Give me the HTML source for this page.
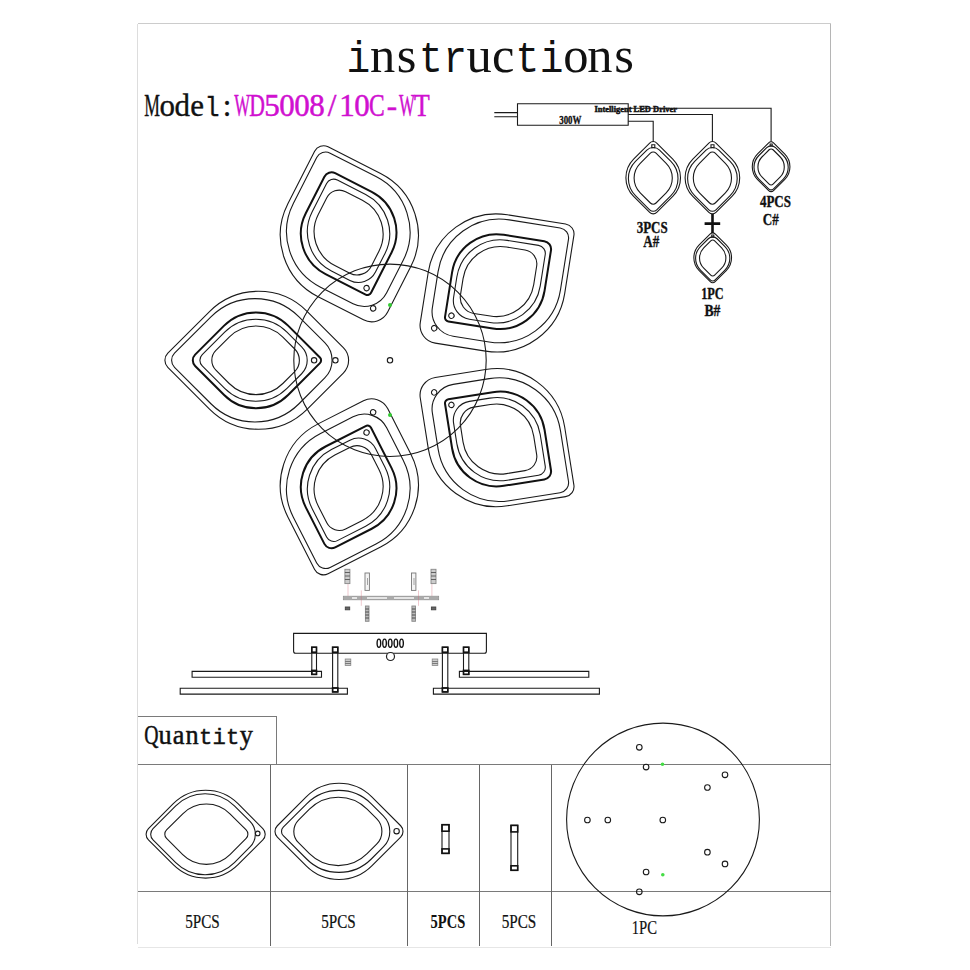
<!DOCTYPE html>
<html><head><meta charset="utf-8"><style>
html,body{margin:0;padding:0;background:#fff;width:970px;height:970px;overflow:hidden}
svg{display:block}
.t{fill:none;stroke:#1a1a1a;stroke-width:1.1;vector-effect:non-scaling-stroke}
.k{fill:none;stroke:#111;stroke-width:2.0}
.k2{fill:none;stroke:#111;stroke-width:1.6}
</style></head><body>
<svg width="970" height="970" viewBox="0 0 970 970">
<rect x="0" y="0" width="970" height="970" fill="#fff"/>
<g fill="none" shape-rendering="crispEdges">
<path d="M137.5 944V23.5" stroke="#ddd" stroke-width="1"/>
<path d="M137.5 23.5H830.5" stroke="#ccc" stroke-width="1"/>
<path d="M830.5 23.5V945.5" stroke="#b5b5b5" stroke-width="1"/>
<path d="M137.5 947.5H830.5" stroke="#e6e6e6" stroke-width="1"/>
</g>
<g font-family="Liberation Serif" font-size="50.5" font-weight="normal" fill="#111" stroke="#111" stroke-width="0"><text font-family="Liberation Mono" font-size="43.94" transform="translate(358.4 71.6) scale(0.9 1)" text-anchor="middle">i</text><text transform="translate(382.55 71.6) scale(1 1)" text-anchor="middle">n</text><text transform="translate(406.7 71.6) scale(1 1)" text-anchor="middle">s</text><text font-family="Liberation Mono" font-size="43.94" transform="translate(430.85 71.6) scale(0.9 1)" text-anchor="middle">t</text><text font-family="Liberation Mono" font-size="43.94" transform="translate(455 71.6) scale(0.9 1)" text-anchor="middle">r</text><text transform="translate(479.15 71.6) scale(1 1)" text-anchor="middle">u</text><text transform="translate(503.3 71.6) scale(1 1)" text-anchor="middle">c</text><text font-family="Liberation Mono" font-size="43.94" transform="translate(527.45 71.6) scale(0.9 1)" text-anchor="middle">t</text><text font-family="Liberation Mono" font-size="43.94" transform="translate(551.6 71.6) scale(0.9 1)" text-anchor="middle">i</text><text transform="translate(575.75 71.6) scale(1 1)" text-anchor="middle">o</text><text transform="translate(599.9 71.6) scale(1 1)" text-anchor="middle">n</text><text transform="translate(624.05 71.6) scale(1 1)" text-anchor="middle">s</text></g>
<g font-family="Liberation Serif" font-size="31" font-weight="normal" fill="#111" stroke="#111" stroke-width="0.35"><text transform="translate(152.2 115.5) scale(0.57 1)" text-anchor="middle">M</text><text transform="translate(167.18 115.5) scale(1 1)" text-anchor="middle">o</text><text transform="translate(182.16 115.5) scale(1 1)" text-anchor="middle">d</text><text transform="translate(197.14 115.5) scale(1 1)" text-anchor="middle">e</text><text font-family="Liberation Mono" font-size="26.97" transform="translate(212.12 115.5) scale(0.91 1)" text-anchor="middle">l</text><text transform="translate(227.1 115.5) scale(1 1)" text-anchor="middle">:</text></g>
<g font-family="Liberation Serif" font-size="31" font-weight="normal" fill="#d010d0" stroke="#d010d0" stroke-width="0.5"><text transform="translate(242.08 115.5) scale(0.54 1)" text-anchor="middle">W</text><text transform="translate(257.06 115.5) scale(0.7 1)" text-anchor="middle">D</text><text transform="translate(272.04 115.5) scale(1 1)" text-anchor="middle">5</text><text transform="translate(287.02 115.5) scale(1 1)" text-anchor="middle">0</text><text transform="translate(302 115.5) scale(1 1)" text-anchor="middle">0</text><text transform="translate(316.98 115.5) scale(1 1)" text-anchor="middle">8</text><text transform="translate(331.96 115.5) scale(1 1)" text-anchor="middle">/</text><text transform="translate(346.94 115.5) scale(1 1)" text-anchor="middle">1</text><text transform="translate(361.92 115.5) scale(1 1)" text-anchor="middle">0</text><text transform="translate(376.9 115.5) scale(0.76 1)" text-anchor="middle">C</text><text transform="translate(391.88 115.5) scale(1 1)" text-anchor="middle">-</text><text transform="translate(406.86 115.5) scale(0.54 1)" text-anchor="middle">W</text><text transform="translate(421.84 115.5) scale(0.83 1)" text-anchor="middle">T</text></g>
<g font-family="Liberation Serif" font-size="26.3" font-weight="normal" fill="#111" stroke="#111" stroke-width="0.45"><text transform="translate(151.4 743.8) scale(0.75 1)" text-anchor="middle">Q</text><text transform="translate(164.96 743.8) scale(1 1)" text-anchor="middle">u</text><text transform="translate(178.52 743.8) scale(1 1)" text-anchor="middle">a</text><text transform="translate(192.08 743.8) scale(1 1)" text-anchor="middle">n</text><text font-family="Liberation Mono" font-size="22.88" transform="translate(205.64 743.8) scale(0.97 1)" text-anchor="middle">t</text><text font-family="Liberation Mono" font-size="22.88" transform="translate(219.2 743.8) scale(0.97 1)" text-anchor="middle">i</text><text font-family="Liberation Mono" font-size="22.88" transform="translate(232.76 743.8) scale(0.97 1)" text-anchor="middle">t</text><text transform="translate(246.32 743.8) scale(1 1)" text-anchor="middle">y</text></g>
<text x="636.7" y="232.5" font-family="Liberation Serif" font-size="16.5" font-weight="bold" textLength="31" lengthAdjust="spacingAndGlyphs" fill="#111" stroke="#111" stroke-width="0.35">3PCS</text>
<text x="643.2" y="246.9" font-family="Liberation Serif" font-size="16.5" font-weight="bold" textLength="16" lengthAdjust="spacingAndGlyphs" fill="#111" stroke="#111" stroke-width="0.35">A#</text>
<text x="759.9" y="207.4" font-family="Liberation Serif" font-size="16.5" font-weight="bold" textLength="31" lengthAdjust="spacingAndGlyphs" fill="#111" stroke="#111" stroke-width="0.35">4PCS</text>
<text x="762.7" y="225" font-family="Liberation Serif" font-size="16.5" font-weight="bold" textLength="16" lengthAdjust="spacingAndGlyphs" fill="#111" stroke="#111" stroke-width="0.35">C#</text>
<text x="701.15" y="298.9" font-family="Liberation Serif" font-size="16.5" font-weight="bold" textLength="22.5" lengthAdjust="spacingAndGlyphs" fill="#111" stroke="#111" stroke-width="0.35">1PC</text>
<text x="704.4" y="315.7" font-family="Liberation Serif" font-size="16.5" font-weight="bold" textLength="16" lengthAdjust="spacingAndGlyphs" fill="#111" stroke="#111" stroke-width="0.35">B#</text>
<text x="559.2" y="124.3" font-family="Liberation Serif" font-size="12.5" font-weight="bold" textLength="22.2" lengthAdjust="spacingAndGlyphs" fill="#111" stroke="#111" stroke-width="0.35">300W</text>
<text x="594.4" y="111.9" font-family="Liberation Serif" font-size="8.5" font-weight="bold" textLength="82.6" lengthAdjust="spacingAndGlyphs" fill="#111" stroke="#111" stroke-width="0.5">Intelligent LED Driver</text>
<text x="185.25" y="927.5" font-family="Liberation Serif" font-size="19" font-weight="normal" textLength="34.5" lengthAdjust="spacingAndGlyphs" fill="#111" stroke="#111" stroke-width="0.2">5PCS</text>
<text x="321.15" y="927.5" font-family="Liberation Serif" font-size="19" font-weight="normal" textLength="34.5" lengthAdjust="spacingAndGlyphs" fill="#111" stroke="#111" stroke-width="0.2">5PCS</text>
<text x="430.6" y="927.8" font-family="Liberation Serif" font-size="19" font-weight="bold" textLength="34.6" lengthAdjust="spacingAndGlyphs" fill="#111" stroke="#111" stroke-width="0.05">5PCS</text>
<text x="501.7" y="927.8" font-family="Liberation Serif" font-size="19" font-weight="normal" textLength="34.6" lengthAdjust="spacingAndGlyphs" fill="#111" stroke="#111" stroke-width="0.2">5PCS</text>
<text x="631.65" y="934.4" font-family="Liberation Serif" font-size="19" font-weight="normal" textLength="25.3" lengthAdjust="spacingAndGlyphs" fill="#111" stroke="#111" stroke-width="0.2">1PC</text>
<rect x="517.5" y="103.7" width="110.7" height="21.6" class="t"/>
<path d="M494.3 112.6H517.5M494.3 116.7H517.5" class="t"/>
<path d="M628.2 108.2H771.1V141.75M628.2 114.5H712.4V141.75M628.2 121.2H653.2V141.75" class="t"/>
<g transform="translate(653.2 178.18) scale(1) rotate(90) translate(-178.2 -653.2)">
<path d="M143.06 649.66L159.11 633.62A26.37 26.37 0 0 1 196.39 633.62L212.44 649.66A5 5 0 0 1 212.44 656.74L196.39 672.78A26.37 26.37 0 0 1 159.11 672.78L143.06 656.74A5 5 0 0 1 143.06 649.66Z" class="t"/>
<path d="M150.14 646.84L161.5 635.47A24.14 24.14 0 0 1 195.64 635.47L209.84 649.66A5 5 0 0 1 209.84 656.74L195.64 670.93A24.14 24.14 0 0 1 161.5 670.93L150.14 659.56A9 9 0 0 1 150.14 646.84Z" class="t"/>
<path d="M153.17 650.37L163.32 640.22A20.9 20.9 0 0 1 192.88 640.22L203.03 650.37A4 4 0 0 1 203.03 656.03L192.88 666.18A20.9 20.9 0 0 1 163.32 666.18L153.17 656.03A4 4 0 0 1 153.17 650.37Z" class="t"/>
<rect x="144.8" y="651.6" width="3" height="3" class="t"/>
</g>
<g transform="translate(712.4 178.18) scale(1) rotate(90) translate(-178.2 -653.2)">
<path d="M143.06 649.66L159.11 633.62A26.37 26.37 0 0 1 196.39 633.62L212.44 649.66A5 5 0 0 1 212.44 656.74L196.39 672.78A26.37 26.37 0 0 1 159.11 672.78L143.06 656.74A5 5 0 0 1 143.06 649.66Z" class="t"/>
<path d="M150.14 646.84L161.5 635.47A24.14 24.14 0 0 1 195.64 635.47L209.84 649.66A5 5 0 0 1 209.84 656.74L195.64 670.93A24.14 24.14 0 0 1 161.5 670.93L150.14 659.56A9 9 0 0 1 150.14 646.84Z" class="t"/>
<path d="M153.17 650.37L163.32 640.22A20.9 20.9 0 0 1 192.88 640.22L203.03 650.37A4 4 0 0 1 203.03 656.03L192.88 666.18A20.9 20.9 0 0 1 163.32 666.18L153.17 656.03A4 4 0 0 1 153.17 650.37Z" class="t"/>
<rect x="144.8" y="651.6" width="3" height="3" class="t"/>
</g>
<g transform="translate(712.7 258.1) scale(0.69) rotate(90) translate(-178.2 -653.2)">
<path d="M143.06 649.66L159.11 633.62A26.37 26.37 0 0 1 196.39 633.62L212.44 649.66A5 5 0 0 1 212.44 656.74L196.39 672.78A26.37 26.37 0 0 1 159.11 672.78L143.06 656.74A5 5 0 0 1 143.06 649.66Z" class="t"/>
<path d="M150.14 646.84L161.5 635.47A24.14 24.14 0 0 1 195.64 635.47L209.84 649.66A5 5 0 0 1 209.84 656.74L195.64 670.93A24.14 24.14 0 0 1 161.5 670.93L150.14 659.56A9 9 0 0 1 150.14 646.84Z" class="t"/>
<path d="M153.17 650.37L163.32 640.22A20.9 20.9 0 0 1 192.88 640.22L203.03 650.37A4 4 0 0 1 203.03 656.03L192.88 666.18A20.9 20.9 0 0 1 163.32 666.18L153.17 656.03A4 4 0 0 1 153.17 650.37Z" class="t"/>
<rect x="144.8" y="651.6" width="3" height="3" class="t"/>
</g>
<g transform="translate(771.1 167.03) scale(0.69) rotate(90) translate(-178.2 -653.2)">
<path d="M143.06 649.66L159.11 633.62A26.37 26.37 0 0 1 196.39 633.62L212.44 649.66A5 5 0 0 1 212.44 656.74L196.39 672.78A26.37 26.37 0 0 1 159.11 672.78L143.06 656.74A5 5 0 0 1 143.06 649.66Z" class="t"/>
<path d="M150.14 646.84L161.5 635.47A24.14 24.14 0 0 1 195.64 635.47L209.84 649.66A5 5 0 0 1 209.84 656.74L195.64 670.93A24.14 24.14 0 0 1 161.5 670.93L150.14 659.56A9 9 0 0 1 150.14 646.84Z" class="t"/>
<path d="M153.17 650.37L163.32 640.22A20.9 20.9 0 0 1 192.88 640.22L203.03 650.37A4 4 0 0 1 203.03 656.03L192.88 666.18A20.9 20.9 0 0 1 163.32 666.18L153.17 656.03A4 4 0 0 1 153.17 650.37Z" class="t"/>
<rect x="144.8" y="651.6" width="3" height="3" class="t"/>
</g>
<path d="M712.5 214V233M704.6 223.6H720.2" stroke="#111" stroke-width="2.6" fill="none"/>
<g transform="rotate(0 390.0 360.3)">
<path d="M167.83 353.23L209.5 311.56A69.16 69.16 0 0 1 307.31 311.56L343.33 347.57A18 18 0 0 1 343.33 373.03L307.31 409.04A69.16 69.16 0 0 1 209.5 409.04L167.83 367.37A10 10 0 0 1 167.83 353.23Z" class="t"/>
<path d="M174.53 353.23L210.92 316.84A62.28 62.28 0 0 1 299 316.84L324.78 342.62A25 25 0 0 1 324.78 377.98L299 403.76A62.28 62.28 0 0 1 210.92 403.76L174.53 367.37A10 10 0 0 1 174.53 353.23Z" class="t"/>
<path d="M195.14 354.64L224.14 325.65A45.23 45.23 0 0 1 288.1 325.65L319.93 357.47A4 4 0 0 1 319.93 363.13L288.1 394.95A45.23 45.23 0 0 1 224.14 394.95L195.14 365.96A8 8 0 0 1 195.14 354.64Z" class="k"/>
<path d="M202.24 354.64L224.69 332.2A44.04 44.04 0 0 1 286.97 332.2L301.64 346.86A19 19 0 0 1 301.64 373.74L286.97 388.4A44.04 44.04 0 0 1 224.69 388.4L202.24 365.96A8 8 0 0 1 202.24 354.64Z" class="t"/>
<path d="M215.9 350.4L229.19 337.11A37.94 37.94 0 0 1 282.84 337.11L294.71 348.99A16 16 0 0 1 294.71 371.61L282.84 383.49A37.94 37.94 0 0 1 229.19 383.49L215.9 370.2A14 14 0 0 1 215.9 350.4Z" class="t"/>
<circle cx="314.1" cy="360.3" r="2.7" class="t"/>
<circle cx="335.4" cy="360.3" r="2.7" class="t"/>
</g>
<g transform="rotate(72 390.0 360.3)">
<path d="M167.83 353.23L209.5 311.56A69.16 69.16 0 0 1 307.31 311.56L343.33 347.57A18 18 0 0 1 343.33 373.03L307.31 409.04A69.16 69.16 0 0 1 209.5 409.04L167.83 367.37A10 10 0 0 1 167.83 353.23Z" class="t"/>
<path d="M174.53 353.23L210.92 316.84A62.28 62.28 0 0 1 299 316.84L324.78 342.62A25 25 0 0 1 324.78 377.98L299 403.76A62.28 62.28 0 0 1 210.92 403.76L174.53 367.37A10 10 0 0 1 174.53 353.23Z" class="t"/>
<path d="M195.14 354.64L224.14 325.65A45.23 45.23 0 0 1 288.1 325.65L319.93 357.47A4 4 0 0 1 319.93 363.13L288.1 394.95A45.23 45.23 0 0 1 224.14 394.95L195.14 365.96A8 8 0 0 1 195.14 354.64Z" class="k"/>
<path d="M202.24 354.64L224.69 332.2A44.04 44.04 0 0 1 286.97 332.2L301.64 346.86A19 19 0 0 1 301.64 373.74L286.97 388.4A44.04 44.04 0 0 1 224.69 388.4L202.24 365.96A8 8 0 0 1 202.24 354.64Z" class="t"/>
<path d="M215.9 350.4L229.19 337.11A37.94 37.94 0 0 1 282.84 337.11L294.71 348.99A16 16 0 0 1 294.71 371.61L282.84 383.49A37.94 37.94 0 0 1 229.19 383.49L215.9 370.2A14 14 0 0 1 215.9 350.4Z" class="t"/>
<circle cx="314.1" cy="360.3" r="2.7" class="t"/>
<circle cx="335.4" cy="360.3" r="2.7" class="t"/>
</g>
<g transform="rotate(144 390.0 360.3)">
<path d="M167.83 353.23L209.5 311.56A69.16 69.16 0 0 1 307.31 311.56L343.33 347.57A18 18 0 0 1 343.33 373.03L307.31 409.04A69.16 69.16 0 0 1 209.5 409.04L167.83 367.37A10 10 0 0 1 167.83 353.23Z" class="t"/>
<path d="M174.53 353.23L210.92 316.84A62.28 62.28 0 0 1 299 316.84L324.78 342.62A25 25 0 0 1 324.78 377.98L299 403.76A62.28 62.28 0 0 1 210.92 403.76L174.53 367.37A10 10 0 0 1 174.53 353.23Z" class="t"/>
<path d="M195.14 354.64L224.14 325.65A45.23 45.23 0 0 1 288.1 325.65L319.93 357.47A4 4 0 0 1 319.93 363.13L288.1 394.95A45.23 45.23 0 0 1 224.14 394.95L195.14 365.96A8 8 0 0 1 195.14 354.64Z" class="k"/>
<path d="M202.24 354.64L224.69 332.2A44.04 44.04 0 0 1 286.97 332.2L301.64 346.86A19 19 0 0 1 301.64 373.74L286.97 388.4A44.04 44.04 0 0 1 224.69 388.4L202.24 365.96A8 8 0 0 1 202.24 354.64Z" class="t"/>
<path d="M215.9 350.4L229.19 337.11A37.94 37.94 0 0 1 282.84 337.11L294.71 348.99A16 16 0 0 1 294.71 371.61L282.84 383.49A37.94 37.94 0 0 1 229.19 383.49L215.9 370.2A14 14 0 0 1 215.9 350.4Z" class="t"/>
<circle cx="314.1" cy="360.3" r="2.7" class="t"/>
<circle cx="335.4" cy="360.3" r="2.7" class="t"/>
</g>
<g transform="rotate(216 390.0 360.3)">
<path d="M167.83 353.23L209.5 311.56A69.16 69.16 0 0 1 307.31 311.56L343.33 347.57A18 18 0 0 1 343.33 373.03L307.31 409.04A69.16 69.16 0 0 1 209.5 409.04L167.83 367.37A10 10 0 0 1 167.83 353.23Z" class="t"/>
<path d="M174.53 353.23L210.92 316.84A62.28 62.28 0 0 1 299 316.84L324.78 342.62A25 25 0 0 1 324.78 377.98L299 403.76A62.28 62.28 0 0 1 210.92 403.76L174.53 367.37A10 10 0 0 1 174.53 353.23Z" class="t"/>
<path d="M195.14 354.64L224.14 325.65A45.23 45.23 0 0 1 288.1 325.65L319.93 357.47A4 4 0 0 1 319.93 363.13L288.1 394.95A45.23 45.23 0 0 1 224.14 394.95L195.14 365.96A8 8 0 0 1 195.14 354.64Z" class="k"/>
<path d="M202.24 354.64L224.69 332.2A44.04 44.04 0 0 1 286.97 332.2L301.64 346.86A19 19 0 0 1 301.64 373.74L286.97 388.4A44.04 44.04 0 0 1 224.69 388.4L202.24 365.96A8 8 0 0 1 202.24 354.64Z" class="t"/>
<path d="M215.9 350.4L229.19 337.11A37.94 37.94 0 0 1 282.84 337.11L294.71 348.99A16 16 0 0 1 294.71 371.61L282.84 383.49A37.94 37.94 0 0 1 229.19 383.49L215.9 370.2A14 14 0 0 1 215.9 350.4Z" class="t"/>
<circle cx="314.1" cy="360.3" r="2.7" class="t"/>
<circle cx="335.4" cy="360.3" r="2.7" class="t"/>
</g>
<g transform="rotate(288 390.0 360.3)">
<path d="M167.83 353.23L209.5 311.56A69.16 69.16 0 0 1 307.31 311.56L343.33 347.57A18 18 0 0 1 343.33 373.03L307.31 409.04A69.16 69.16 0 0 1 209.5 409.04L167.83 367.37A10 10 0 0 1 167.83 353.23Z" class="t"/>
<path d="M174.53 353.23L210.92 316.84A62.28 62.28 0 0 1 299 316.84L324.78 342.62A25 25 0 0 1 324.78 377.98L299 403.76A62.28 62.28 0 0 1 210.92 403.76L174.53 367.37A10 10 0 0 1 174.53 353.23Z" class="t"/>
<path d="M195.14 354.64L224.14 325.65A45.23 45.23 0 0 1 288.1 325.65L319.93 357.47A4 4 0 0 1 319.93 363.13L288.1 394.95A45.23 45.23 0 0 1 224.14 394.95L195.14 365.96A8 8 0 0 1 195.14 354.64Z" class="k"/>
<path d="M202.24 354.64L224.69 332.2A44.04 44.04 0 0 1 286.97 332.2L301.64 346.86A19 19 0 0 1 301.64 373.74L286.97 388.4A44.04 44.04 0 0 1 224.69 388.4L202.24 365.96A8 8 0 0 1 202.24 354.64Z" class="t"/>
<path d="M215.9 350.4L229.19 337.11A37.94 37.94 0 0 1 282.84 337.11L294.71 348.99A16 16 0 0 1 294.71 371.61L282.84 383.49A37.94 37.94 0 0 1 229.19 383.49L215.9 370.2A14 14 0 0 1 215.9 350.4Z" class="t"/>
<circle cx="314.1" cy="360.3" r="2.7" class="t"/>
<circle cx="335.4" cy="360.3" r="2.7" class="t"/>
</g>
<circle cx="390.0" cy="360.3" r="96.2" class="t"/>
<circle cx="390.0" cy="360.3" r="2.7" class="t"/>
<circle cx="390" cy="305.1" r="2" fill="#3c3" stroke="none"/>
<circle cx="390" cy="415.1" r="2" fill="#3c3" stroke="none"/>
<g stroke="#888" stroke-width="0.9" fill="#ddd">
<rect x="343.4" y="596.3" width="95.2" height="3.4" fill="#e4e4e4"/>
<rect x="343.4" y="596.3" width="8.6" height="3.4" fill="#aaa" stroke="none"/>
<rect x="357" y="596.3" width="10.0" height="3.4" fill="#aaa" stroke="none"/>
<rect x="387" y="596.3" width="7.0" height="3.4" fill="#aaa" stroke="none"/>
<rect x="414" y="596.3" width="10.0" height="3.4" fill="#aaa" stroke="none"/>
<rect x="429" y="596.3" width="9.6" height="3.4" fill="#aaa" stroke="none"/>
<rect x="344.9" y="569.3" width="5" height="14.3" fill="#ccc"/>
<path d="M344.9 572.5H349.9M344.9 576H349.9M344.9 579.5H349.9" stroke="#555"/>
<rect x="345.29999999999995" y="607" width="4.4" height="2.8" fill="#666" stroke="#444"/>
<rect x="431" y="569.3" width="5" height="14.3" fill="#ccc"/>
<path d="M431 572.5H436M431 576H436M431 579.5H436" stroke="#555"/>
<rect x="431.4" y="607" width="4.4" height="2.8" fill="#666" stroke="#444"/>
<rect x="365" y="573" width="4.4" height="17.4" fill="#f4f4f4" stroke="#777"/>
<path d="M367.5 578V585" stroke="#999"/>
<rect x="365.4" y="606" width="3.6" height="15.3" fill="#bbb" stroke="#888"/>
<path d="M365.4 609H369M365.4 612H369M365.4 615H369M365.4 618H369" stroke="#444"/>
<rect x="411.5" y="573" width="4.4" height="17.4" fill="#f4f4f4" stroke="#777"/>
<path d="M414.0 578V585" stroke="#999"/>
<rect x="411.9" y="606" width="3.6" height="15.3" fill="#bbb" stroke="#888"/>
<path d="M411.9 609H415.5M411.9 612H415.5M411.9 615H415.5M411.9 618H415.5" stroke="#444"/>
</g>
<g stroke="#d06070" stroke-width="0.6" opacity="0.55"><path d="M348 584V596M361.3 590.4V605.8M418.5 590.4V605.8M431.9 584V596"/></g>
<path d="M293.6 633.4H486.4V651.3Q486.4 653.3 484.4 653.3H295.6Q293.6 653.3 293.6 651.3Z" class="t"/>
<circle cx="390.5" cy="656.5" r="4" fill="#fff" stroke="#222" stroke-width="1.2"/>
<rect x="192.1" y="671.4" width="129.4" height="5.9" class="t"/>
<rect x="180.2" y="688.3" width="167.2" height="5.8" class="t"/>
<rect x="459.4" y="671.4" width="129.4" height="5.9" class="t"/>
<rect x="433.4" y="688.3" width="166" height="5.8" class="t"/>
<rect x="311.8" y="647.2" width="4.7" height="27.2" class="t"/>
<rect x="311.8" y="647.2" width="4.7" height="5" class="k2"/>
<rect x="311.8" y="670.4" width="4.7" height="4" class="k2"/>
<rect x="332.6" y="647.2" width="5.2" height="44.7" class="t"/>
<rect x="332.6" y="647.2" width="5.2" height="5" class="k2"/>
<rect x="332.6" y="687.9" width="5.2" height="4" class="k2"/>
<rect x="442.4" y="647.2" width="5.4" height="44.7" class="t"/>
<rect x="442.4" y="647.2" width="5.4" height="5" class="k2"/>
<rect x="442.4" y="687.9" width="5.4" height="4" class="k2"/>
<rect x="463.5" y="647.2" width="5.3" height="27.2" class="t"/>
<rect x="463.5" y="647.2" width="5.3" height="5" class="k2"/>
<rect x="463.5" y="670.4" width="5.3" height="4" class="k2"/>
<g stroke="#888" stroke-width="0.8" fill="#ccc"><rect x="345.2" y="659" width="5.6" height="6.6"/><rect x="432.2" y="659" width="5.6" height="6.6"/><path d="M345.2 661.5H350.8M345.2 663.5H350.8M432.2 661.5H437.8M432.2 663.5H437.8" stroke="#666"/></g>
<ellipse cx="378.9" cy="643.2" rx="1.8" ry="4.1" fill="none" stroke="#111" stroke-width="1.4"/>
<ellipse cx="384.56" cy="643.2" rx="1.8" ry="4.1" fill="none" stroke="#111" stroke-width="1.4"/>
<ellipse cx="390.22" cy="643.2" rx="1.8" ry="4.1" fill="none" stroke="#111" stroke-width="1.4"/>
<ellipse cx="395.88" cy="643.2" rx="1.8" ry="4.1" fill="none" stroke="#111" stroke-width="1.4"/>
<ellipse cx="401.54" cy="643.2" rx="1.8" ry="4.1" fill="none" stroke="#111" stroke-width="1.4"/>
<g stroke="#7a7a7a" stroke-width="1" fill="none" shape-rendering="crispEdges">
<path d="M137.5 716.5H276.5V764.5"/>
<path d="M137.5 764.5H830.5"/>
<path d="M137.5 891.5H830.5"/>
</g>
<g stroke="#666" stroke-width="1" fill="none" shape-rendering="crispEdges">
<path d="M270.5 764.5V946"/>
<path d="M407.5 764.5V946"/>
<path d="M479.5 764.5V946"/>
<path d="M551.5 764.5V946"/>
</g>
<path d="M148.44 828.54L173.28 803.71A45.78 45.78 0 0 1 238.02 803.71L262.86 828.54A8 8 0 0 1 262.86 839.86L238.02 864.69A45.78 45.78 0 0 1 173.28 864.69L148.44 839.86A8 8 0 0 1 148.44 828.54Z" class="t"/>
<path d="M153.04 828.54L175.73 805.85A41.49 41.49 0 0 1 234.41 805.85L250.03 821.47A18 18 0 0 1 250.03 846.93L234.41 862.55A41.49 41.49 0 0 1 175.73 862.55L153.04 839.86A8 8 0 0 1 153.04 828.54Z" class="t"/>
<path d="M166.56 829.96L182.73 813.78A33.4 33.4 0 0 1 229.97 813.78L246.14 829.96A6 6 0 0 1 246.14 838.44L229.97 854.62A33.4 33.4 0 0 1 182.73 854.62L166.56 838.44A6 6 0 0 1 166.56 829.96Z" class="t"/>
<circle cx="257.7" cy="833.4" r="2.3" class="t"/>
<path d="M277.34 825.74L306.2 796.89A46.39 46.39 0 0 1 371.8 796.89L400.66 825.74A8 8 0 0 1 400.66 837.06L371.8 865.91A46.39 46.39 0 0 1 306.2 865.91L277.34 837.06A8 8 0 0 1 277.34 825.74Z" class="t"/>
<path d="M283.26 827.16L306.62 803.8A45.75 45.75 0 0 1 371.31 803.8L383.36 815.84A22 22 0 0 1 383.36 846.96L371.31 859A45.75 45.75 0 0 1 306.62 859L283.26 835.64A6 6 0 0 1 283.26 827.16Z" class="t"/>
<path d="M298.49 820.09L309.43 809.14A40.78 40.78 0 0 1 367.1 809.14L376.63 818.67A18 18 0 0 1 376.63 844.13L367.1 853.66A40.78 40.78 0 0 1 309.43 853.66L298.49 842.71A16 16 0 0 1 298.49 820.09Z" class="t"/>
<circle cx="396.6" cy="831.2" r="2.7" class="t"/>
<rect x="442" y="824.7" width="7" height="28.7" class="t"/>
<rect x="442" y="824.7" width="7" height="6.5" class="k2"/>
<rect x="442" y="848.9" width="7" height="4.5" class="k2"/>
<rect x="511" y="825.4" width="6.7" height="44.9" class="t"/>
<rect x="511" y="825.4" width="6.7" height="6.5" class="k2"/>
<rect x="511" y="865.8" width="6.7" height="4.5" class="k2"/>
<circle cx="663" cy="819.5" r="96.4" class="t"/>
<circle cx="639.3" cy="747.3" r="2.8" class="t"/>
<circle cx="646.1" cy="767.1" r="2.8" class="t"/>
<circle cx="725" cy="774.8" r="2.8" class="t"/>
<circle cx="707.4" cy="787.5" r="2.8" class="t"/>
<circle cx="587.4" cy="820" r="2.8" class="t"/>
<circle cx="607.8" cy="820" r="2.8" class="t"/>
<circle cx="662.8" cy="820" r="2.8" class="t"/>
<circle cx="707.4" cy="852.2" r="2.8" class="t"/>
<circle cx="725" cy="863.9" r="2.8" class="t"/>
<circle cx="646.1" cy="872" r="2.8" class="t"/>
<circle cx="639.3" cy="891.8" r="2.8" class="t"/>
<circle cx="662.5" cy="764.3" r="1.8" fill="#4d4" stroke="none"/>
<circle cx="662.8" cy="874.7" r="1.8" fill="#4d4" stroke="none"/>
</svg>
</body></html>
